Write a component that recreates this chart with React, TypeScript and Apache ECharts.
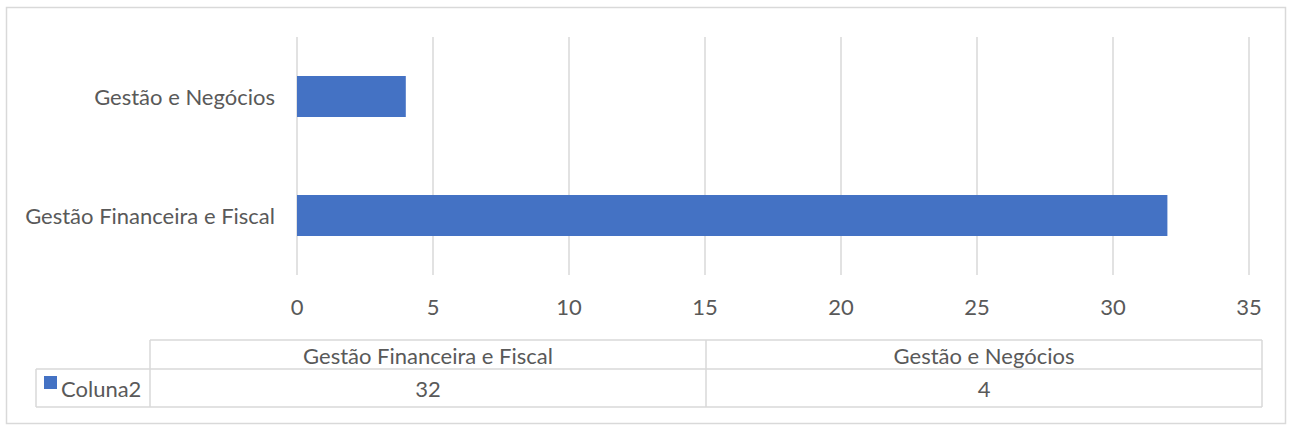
import React, { useEffect, useRef } from "react";
import * as echarts from "echarts";

const categories = ["Gestão Financeira e Fiscal", "Gestão e Negócios"];
const seriesName = "Coluna2";
const values = [32, 4];
const xTicks = { min: 0, max: 35, interval: 5 };

const W = 1292;
const H = 432;
const TEXT = "#595959";
const GRID = "#d9d9d9";
const BAR = "#4472c4";
const FONT = "Lato";
const FS = 22;

export default function App() {
  const ref = useRef<HTMLDivElement>(null);
  useEffect(() => {
    if (!ref.current) return;
    const chart = echarts.init(ref.current, undefined, { renderer: "svg" });

    // data table geometry
    const tL = 36, tC0 = 150, tR = 1262, tTop = 340, tMid = 369, tBot = 407;
    const colW = (tR - tC0) / categories.length;
    const line = (x1: number, y1: number, x2: number, y2: number) => ({
      type: "line",
      shape: { x1, y1, x2, y2 },
      style: { stroke: GRID, lineWidth: 1.5 },
      silent: true,
    });
    const graphics: any[] = [
      {
        type: "rect",
        shape: { x: 6.5, y: 7.5, width: 1279, height: 416 },
        style: { fill: "none", stroke: GRID, lineWidth: 1.5 },
        silent: true,
      },
      line(tC0, tTop, tR, tTop),
      line(tL, tMid, tR, tMid),
      line(tL, tBot, tR, tBot),
      line(tL, tMid, tL, tBot),
      line(tR, tTop, tR, tBot),
    ];
    for (let i = 0; i <= categories.length - 1; i++) {
      graphics.push(line(tC0 + colW * i, tTop, tC0 + colW * i, tBot));
    }
    categories.forEach((c, i) => {
      const cx = tC0 + colW * (i + 0.5);
      graphics.push({
        type: "text",
        x: cx,
        y: (tTop + tMid) / 2 + 0.5,
        style: { text: c, fill: TEXT, font: `${FS}px ${FONT}`, align: "center", verticalAlign: "middle" },
        silent: true,
      });
      graphics.push({
        type: "text",
        x: cx,
        y: (tMid + tBot) / 2,
        style: { text: String(values[i]), fill: TEXT, font: `${FS}px ${FONT}`, align: "center", verticalAlign: "middle" },
        silent: true,
      });
    });
    graphics.push({
      type: "rect",
      shape: { x: 44, y: 376, width: 13, height: 13 },
      style: { fill: BAR },
      silent: true,
    });
    graphics.push({
      type: "text",
      x: 61,
      y: (tMid + tBot) / 2,
      style: { text: seriesName, fill: TEXT, font: `${FS}px ${FONT}`, align: "left", verticalAlign: "middle" },
      silent: true,
    });

    chart.setOption({
      animation: false,
      backgroundColor: "#ffffff",
      grid: { left: 297, right: W - 1249, top: 37, bottom: H - 275, containLabel: false },
      xAxis: {
        type: "value",
        min: xTicks.min,
        max: xTicks.max,
        interval: xTicks.interval,
        axisLine: { show: false },
        axisTick: { show: false },
        axisLabel: { color: TEXT, fontSize: FS, fontFamily: FONT, margin: 20 },
        splitLine: { show: true, lineStyle: { color: GRID, width: 1.5 } },
      },
      yAxis: {
        type: "category",
        data: categories,
        axisLine: { show: false },
        axisTick: { show: false },
        axisLabel: { color: TEXT, fontSize: FS, fontFamily: FONT, margin: 22 },
        splitLine: { show: false },
      },
      series: [
        {
          name: seriesName,
          type: "bar",
          data: values,
          barWidth: 41,
          itemStyle: { color: BAR },
        },
      ],
      graphic: graphics,
    });
    return () => chart.dispose();
  }, []);
  return (
    <div
      ref={ref}
      style={{ position: "fixed", left: 0, top: 0, width: W, height: H }}
    />
  );
}
